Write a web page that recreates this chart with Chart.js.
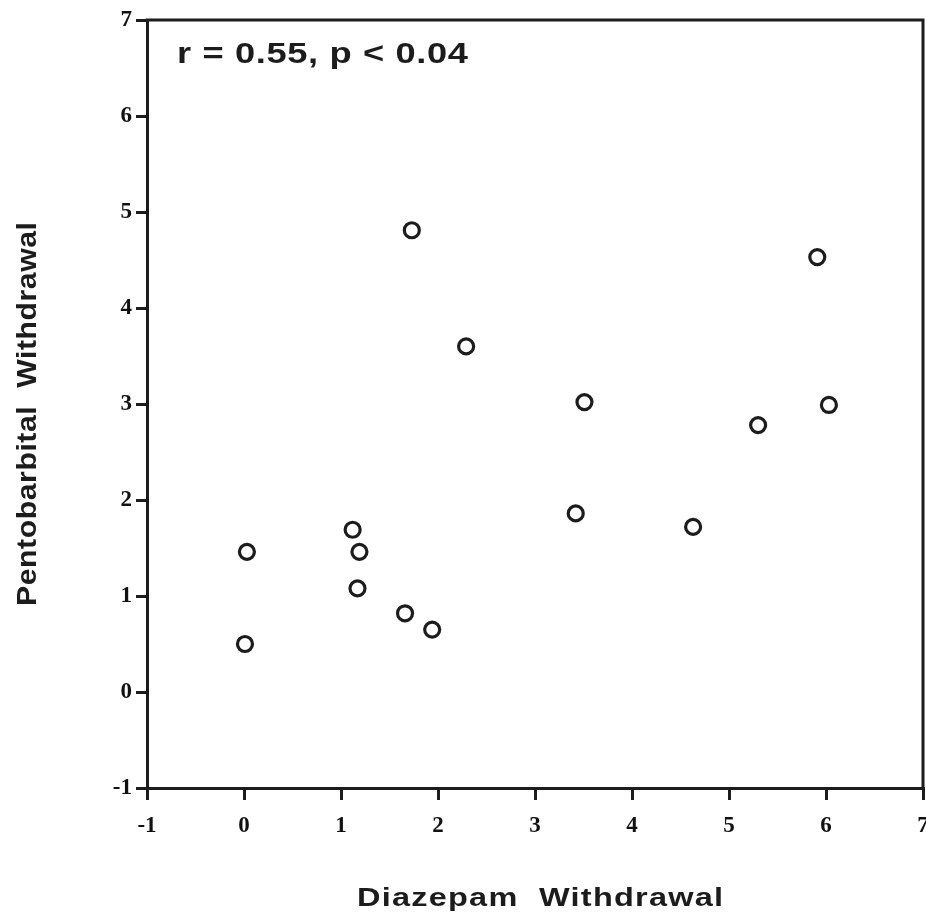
<!DOCTYPE html>
<html>
<head>
<meta charset="utf-8">
<script src="https://cdn.jsdelivr.net/npm/chart.js@4.4.1/dist/chart.umd.min.js"></script>
<style>
  html, body { margin: 0; padding: 0; background: #fff; }
  canvas { display: block; }
</style>
</head>
<body>
<canvas id="scatter-chart" width="926" height="922"></canvas>
<script>
// values
const diazepam = [0.03, 0.01, 1.12, 1.19, 1.17, 1.66, 1.94, 1.73, 2.29, 3.51, 3.42, 4.63, 5.30, 5.91, 6.03];
const pentobarbital = [1.46, 0.50, 1.69, 1.46, 1.08, 0.82, 0.65, 4.81, 3.60, 3.02, 1.86, 1.72, 2.78, 4.53, 2.99];
const axisTicks = [-1, 0, 1, 2, 3, 4, 5, 6, 7];

const xTitle = 'Diazepam  Withdrawal';
const yTitle = 'Pentobarbital  Withdrawal';
const statText = 'r = 0.55, p < 0.04';

const ink = '#1c1c1c';

const points = diazepam.map((x, i) => ({ x: x, y: pentobarbital[i] }));

// draws text stretched out to a given length (the scan's lettering is wide)
function spreadText(ctx, text, len, stretch) {
    ctx.scale(stretch, 1);
    const w = ctx.measureText(text).width;
    if ('letterSpacing' in ctx) {
        const ls = (len / stretch - w) / (text.length - 1);
        ctx.letterSpacing = ls.toFixed(2) + 'px';
    }
    ctx.fillText(text, 0, 0);
}

const framePlugin = {
    id: 'frame',
    afterDraw(chart) {
        const ctx = chart.ctx;
        const a = chart.chartArea;
        ctx.save();
        ctx.strokeStyle = ink;
        ctx.lineWidth = 3;
        ctx.beginPath();
        ctx.moveTo(a.left - 1.5, a.top);
        ctx.lineTo(a.right, a.top);
        ctx.lineTo(a.right, a.bottom);
        ctx.stroke();

        ctx.fillStyle = ink;
        ctx.textAlign = 'left';
        ctx.textBaseline = 'alphabetic';

        // correlation note
        ctx.save();
        ctx.font = 'bold 29px "Liberation Sans", Arial, sans-serif';
        ctx.translate(177, 63);
        spreadText(ctx, statText, 291, 1.25);
        ctx.restore();

        // x axis title
        ctx.save();
        ctx.font = 'bold 25px "Liberation Sans", Arial, sans-serif';
        ctx.translate(357, 906);
        spreadText(ctx, xTitle, 366, 1.3);
        ctx.restore();

        // y axis title
        ctx.save();
        ctx.font = 'bold 28px "Liberation Sans", Arial, sans-serif';
        ctx.translate(36, 606);
        ctx.rotate(-Math.PI / 2);
        spreadText(ctx, yTitle, 384, 1.08);
        ctx.restore();

        ctx.restore();
    }
};

const ctx = document.getElementById('scatter-chart').getContext('2d');

const myScatterChart = new Chart(ctx, {
    type: 'scatter',
    data: {
        datasets: [{
            label: 'Withdrawal scores',
            data: points,
            pointStyle: 'circle',
            pointRadius: 7.5,
            pointBorderWidth: 3.2,
            pointBorderColor: ink,
            pointBackgroundColor: '#fff'
        }]
    },
    options: {
        responsive: false,
        animation: false,
        devicePixelRatio: 1,
        layout: {
            autoPadding: false,
            padding: { top: 20, right: 3, left: 0, bottom: 0 }
        },
        plugins: {
            legend: { display: false },
            tooltip: { enabled: false }
        },
        scales: {
            x: {
                type: 'linear',
                min: -1,
                max: 7,
                afterBuildTicks: (scale) => {
                    scale.ticks = axisTicks.map(v => ({ value: v }));
                },
                afterFit: (scale) => {
                    scale.height = 134;
                    scale.paddingLeft = 0;
                    scale.paddingRight = 0;
                },
                border: { display: true, color: ink, width: 3 },
                grid: {
                    drawOnChartArea: false,
                    drawTicks: true,
                    tickLength: 12,
                    lineWidth: 3,
                    color: ink
                },
                ticks: {
                    color: '#111',
                    padding: 12,
                    maxRotation: 0,
                    font: { family: '"Liberation Serif", "Times New Roman", serif', size: 23, weight: 'bold' }
                }
            },
            y: {
                type: 'linear',
                min: -1,
                max: 7,
                afterBuildTicks: (scale) => {
                    scale.ticks = axisTicks.map(v => ({ value: v }));
                },
                afterFit: (scale) => {
                    scale.width = 147;
                    scale.paddingTop = 0;
                    scale.paddingBottom = 0;
                },
                border: { display: true, color: ink, width: 3 },
                grid: {
                    drawOnChartArea: false,
                    drawTicks: true,
                    tickLength: 11,
                    lineWidth: 3,
                    color: ink
                },
                ticks: {
                    color: '#111',
                    padding: 4,
                    font: { family: '"Liberation Serif", "Times New Roman", serif', size: 23, weight: 'bold' }
                }
            }
        }
    },
    plugins: [framePlugin]
});
</script>
</body>
</html>
